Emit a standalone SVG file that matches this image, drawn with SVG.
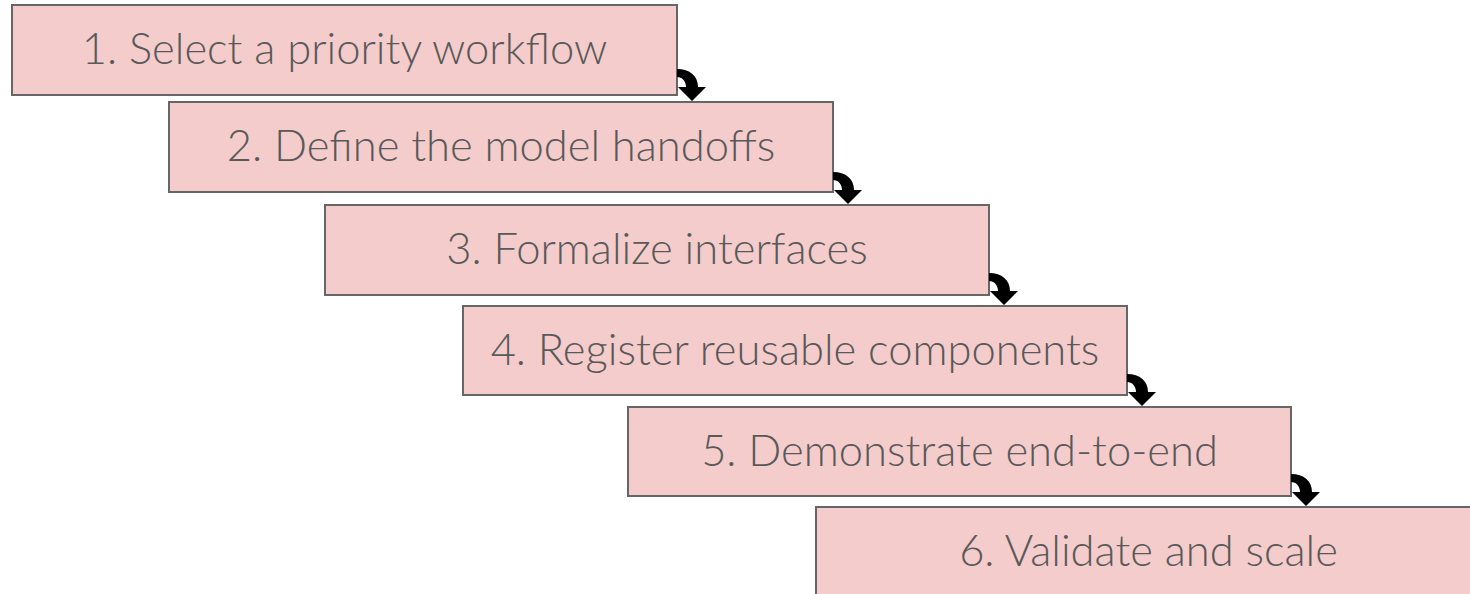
<svg xmlns="http://www.w3.org/2000/svg" width="1470" height="594" viewBox="0 0 1470 594">
<style>
.box{fill:#f4cccc;stroke:#666666;stroke-width:2}
.lbl{font-family:"Lato","Open Sans","Liberation Sans",sans-serif;font-weight:300;font-size:43.5px;fill:#595959;text-anchor:middle}
.arr{fill:#000000}
</style>
<defs>
<path id="curv" d="M0,0 C13,0 21,7 21,18 L29,18 L15,32 L1,18 L9,18 C9,12 5,8 0,8 Z"/>
</defs>
<rect width="1470" height="594" fill="#ffffff"/>
<g id="node1"><rect class="box" x="12" y="5" width="665" height="90"/><text class="lbl" x="344.5" y="64">1. Select a priority workflow</text></g>
<g id="node2"><rect class="box" x="169" y="102" width="664" height="90"/><text class="lbl" x="501" y="161">2. Define the model handoffs</text></g>
<g id="node3"><rect class="box" x="325" y="205" width="664" height="90"/><text class="lbl" x="657" y="264">3. Formalize interfaces</text></g>
<g id="node4"><rect class="box" x="463" y="306" width="664" height="89"/><text class="lbl" x="795" y="365">4. Register reusable components</text></g>
<g id="node5"><rect class="box" x="628" y="407" width="663" height="89"/><text class="lbl" x="959.5" y="466">5. Demonstrate end-to-end</text></g>
<g id="node6"><rect class="box" x="816" y="507" width="665" height="95"/><text class="lbl" x="1148.5" y="566">6. Validate and scale</text></g>
<g id="connectors">
<use class="arr" href="#curv" x="677" y="69"/>
<use class="arr" href="#curv" x="833" y="172"/>
<use class="arr" href="#curv" x="989" y="273"/>
<use class="arr" href="#curv" x="1127" y="374"/>
<use class="arr" href="#curv" x="1291" y="474"/>
</g>
</svg>
